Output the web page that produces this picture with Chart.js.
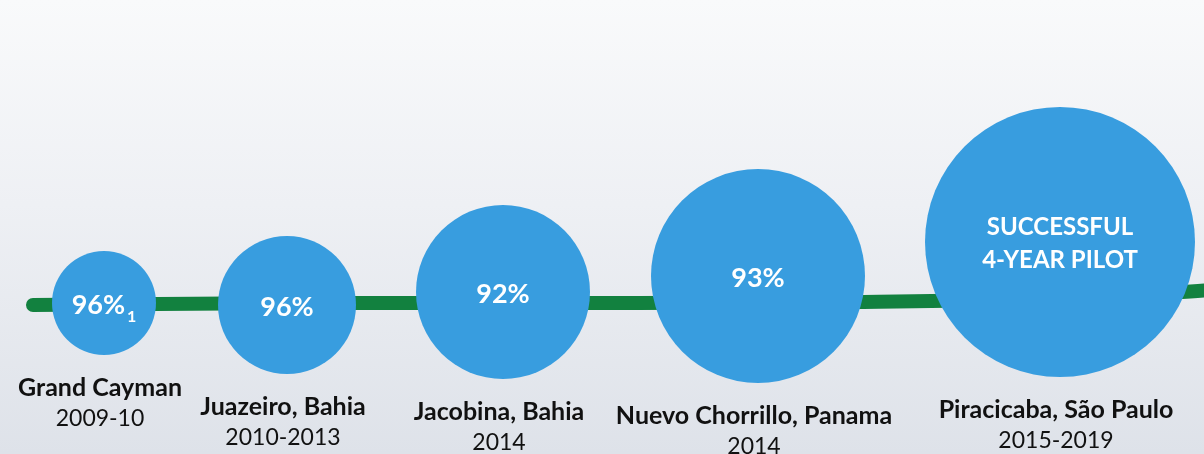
<!DOCTYPE html>
<html>
<head>
<meta charset="utf-8">
<script src="https://cdn.jsdelivr.net/npm/chart.js@4.4.1/dist/chart.umd.min.js"></script>
<style>
  html, body { margin: 0; padding: 0; }
  body { width: 1204px; height: 454px; overflow: hidden; }
  #wrap { width: 1204px; height: 454px; background: linear-gradient(#f9fafb 0%, #eef0f4 45%, #dee2e9 100%); }
  canvas { display: block; }
</style>
</head>
<body>
<div id="wrap"><canvas id="pilots" width="1204" height="454"></canvas></div>
<script>
// ── data ─────────────────────────────────────────────
const sites     = ["Grand Cayman", "Juazeiro, Bahia", "Jacobina, Bahia", "Nuevo Chorrillo, Panama", "Piracicaba, São Paulo"];
const periods   = ["2009-10", "2010-2013", "2014", "2014", "2015-2019"];
const results   = [["96%"], ["96%"], ["92%"], ["93%"], ["SUCCESSFUL", "4-YEAR PILOT"]];
const footnotes = ["1", "", "", "", ""];

// bubble position along the timeline, height and size
const siteX   = [104, 287, 503, 758, 1060];
const siteY   = [151, 149, 162, 178, 212];
const siteR   = [52, 69, 87, 107, 135];

// green trend band behind the bubbles
const trendX  = [33, 300, 600, 860, 1100, 1210];
const trendY  = [149, 151, 151, 152, 157, 164];

const BLUE  = "#389ddf";
const GREEN = "#12813f";

// ── labels plugin ────────────────────────────────────
const siteLabels = {
    id: "siteLabels",
    afterDatasetsDraw(chart) {
        const { ctx, scales: { x, y } } = chart;
        ctx.save();
        ctx.textAlign = "center";
        ctx.textBaseline = "middle";
        sites.forEach((name, i) => {
            const px = x.getPixelForValue(siteX[i]);
            const py = y.getPixelForValue(siteY[i]);
            const r  = siteR[i];

            // inside the bubble
            ctx.fillStyle = "#ffffff";
            const lines = results[i];
            if (lines.length === 1) {
                ctx.font = "bold 27px Lato";
                const w = ctx.measureText(lines[0]).width;
                let sw = 0;
                if (footnotes[i]) {
                    ctx.font = "bold 16px Lato";
                    sw = ctx.measureText(footnotes[i]).width + 2;
                }
                const left = px - (w + sw) / 2;
                ctx.font = "bold 27px Lato";
                ctx.textAlign = "left";
                ctx.fillText(lines[0], left, py + 2);
                if (footnotes[i]) {
                    ctx.font = "bold 16px Lato";
                    ctx.fillText(footnotes[i], left + w + 2, py + 14);
                }
                ctx.textAlign = "center";
            } else {
                ctx.font = "bold 24px Lato";
                ctx.fillText(lines[0], px, py - 15);
                ctx.fillText(lines[1], px, py + 18);
            }

            // under the bubble
            ctx.fillStyle = "#111111";
            ctx.font = "bold 25px Lato";
            ctx.fillText(name, px - 4, py + r + 33);
            ctx.font = "23px Lato";
            ctx.fillText(periods[i], px - 4, py + r + 64);
        });
        ctx.restore();
    }
};

// ── chart ────────────────────────────────────────────
new Chart(document.getElementById("pilots"), {
    data: {
        datasets: [
            {
                type: "bubble",
                order: 1,
                data: siteX.map((v, i) => ({ x: v, y: siteY[i], r: siteR[i] })),
                backgroundColor: BLUE,
                borderWidth: 0,
                hoverRadius: 0,
                hoverBorderWidth: 0,
                clip: false,
            },
            {
                type: "line",
                order: 2,
                data: trendX.map((v, i) => ({ x: v, y: trendY[i] })),
                borderColor: GREEN,
                borderWidth: 14,
                borderCapStyle: "round",
                cubicInterpolationMode: "monotone",
                pointRadius: 0,
                fill: false,
                clip: false,
            },
        ],
    },
    options: {
        responsive: false,
        animation: false,
        events: [],
        layout: { padding: 0, autoPadding: false },
        plugins: { legend: { display: false }, tooltip: { enabled: false } },
        scales: {
            x: { type: "linear", min: 0, max: 1204, display: false },
            y: { type: "linear", min: 0, max: 454, display: false },
        },
    },
    plugins: [siteLabels],
});
</script>
</body>
</html>
